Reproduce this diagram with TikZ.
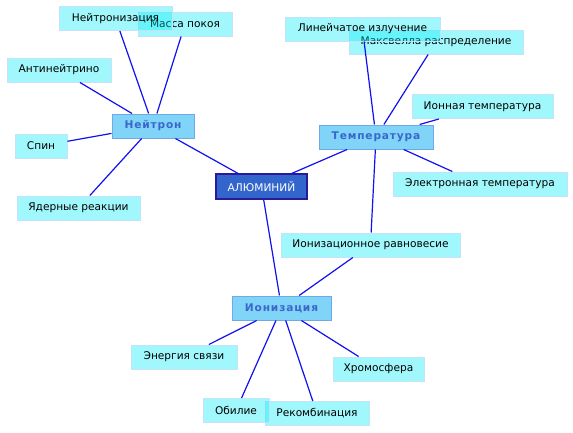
\documentclass[tikz,border=0pt]{standalone}
\usepackage{fontspec}
\setmainfont{DejaVu Sans}
\usepackage{xcolor}
\usepackage{tikz}

\definecolor{leaffill}{RGB}{0,236,246}
\definecolor{leafline}{RGB}{196,226,248}
\definecolor{hubfill}{RGB}{128,212,248}
\definecolor{hubline}{RGB}{112,168,232}
\definecolor{hubtext}{RGB}{58,102,204}
\definecolor{corefill}{RGB}{51,102,204}
\definecolor{coreline}{RGB}{42,26,154}
\definecolor{linkblue}{RGB}{16,16,240}

\begin{document}
\begin{tikzpicture}[
      x=1pt, y=-1pt,
      leaf/.style={rectangle, draw=leafline, fill=leaffill, fill opacity=0.37, text opacity=1, line width=1pt, minimum height=24pt, inner sep=0pt, font=\fontsize{10.6}{12}\selectfont},
      hub/.style={rectangle, draw=hubline, fill=hubfill, line width=1pt, minimum height=24pt, inner sep=0pt, text=hubtext, font=\fontsize{10.6}{12}\selectfont\bfseries\addfontfeature{LetterSpace=8}},
      core/.style={rectangle, draw=coreline, fill=corefill, line width=1.2pt, minimum height=25pt, inner sep=0pt, text=white, font=\fontsize{10.6}{12}\selectfont},
      link/.style={draw=linkblue, line width=1.2pt}
    ]
      \useasboundingbox (0,0) rectangle (573,432);
      \node[core, minimum width=91pt] (alu) at (261.5,186.5) {АЛЮМИНИЙ};
      % neutron side
      \node[hub, minimum width=82pt] (neutron) at (153,126) {Нейтрон};
      \node[leaf, minimum width=94pt] (mass) at (185,24) {Масса покоя};
      \node[leaf, minimum width=113pt] (nzation) at (115.5,18.5) {Нейтронизация};
      \node[leaf, minimum width=104pt] (antinu) at (59,70) {Антинейтрино};
      \node[leaf, minimum width=52pt] (spin) at (41,146) {Спин};
      \node[leaf, minimum width=123pt] (nuclear) at (78.5,208) {Ядерные реакции};
      % temperature side
      \node[hub, minimum width=114pt] (temp) at (376,137) {Температура};
      \node[leaf, minimum width=174pt] (maxwell) at (436,42) {Максвелла распределение};
      \node[leaf, minimum width=155pt] (lines) at (362.5,29) {Линейчатое излучение};
      \node[leaf, minimum width=141pt] (iontemp) at (482.5,106.5) {Ионная температура};
      \node[leaf, minimum width=174pt] (eltemp) at (480,184) {Электронная температура};
      \node[leaf, minimum width=179pt] (equil) at (370.5,245) {Ионизационное равновесие};
      % ionization side
      \node[hub, minimum width=99pt] (ion) at (281.5,308) {Ионизация};
      \node[leaf, minimum width=106pt] (binding) at (184,357) {Энергия связи};
      \node[leaf, minimum width=91pt] (chromo) at (378.5,369) {Хромосфера};
      \node[leaf, minimum width=104pt] (recomb) at (317,413.5) {Рекомбинация};
      \node[leaf, minimum width=66pt] (abund) at (236,410.5) {Обилие};
      % links
      \draw[link] (alu) -- (neutron);
      \draw[link] (alu) -- (temp);
      \draw[link] (alu) -- (ion);
      \draw[link] (neutron) -- (nzation);
      \draw[link] (neutron) -- (mass);
      \draw[link] (neutron) -- (antinu);
      \draw[link] (neutron) -- (spin);
      \draw[link] (neutron) -- (nuclear);
      \draw[link] (temp) -- (lines);
      \draw[link] (temp) -- (maxwell);
      \draw[link] (temp) -- (iontemp);
      \draw[link] (temp) -- (eltemp);
      \draw[link] (temp) -- (equil);
      \draw[link] (ion) -- (equil);
      \draw[link] (ion) -- (binding);
      \draw[link] (ion) -- (abund);
      \draw[link] (ion) -- (recomb);
      \draw[link] (ion) -- (chromo);
    \end{tikzpicture}
\end{document}
